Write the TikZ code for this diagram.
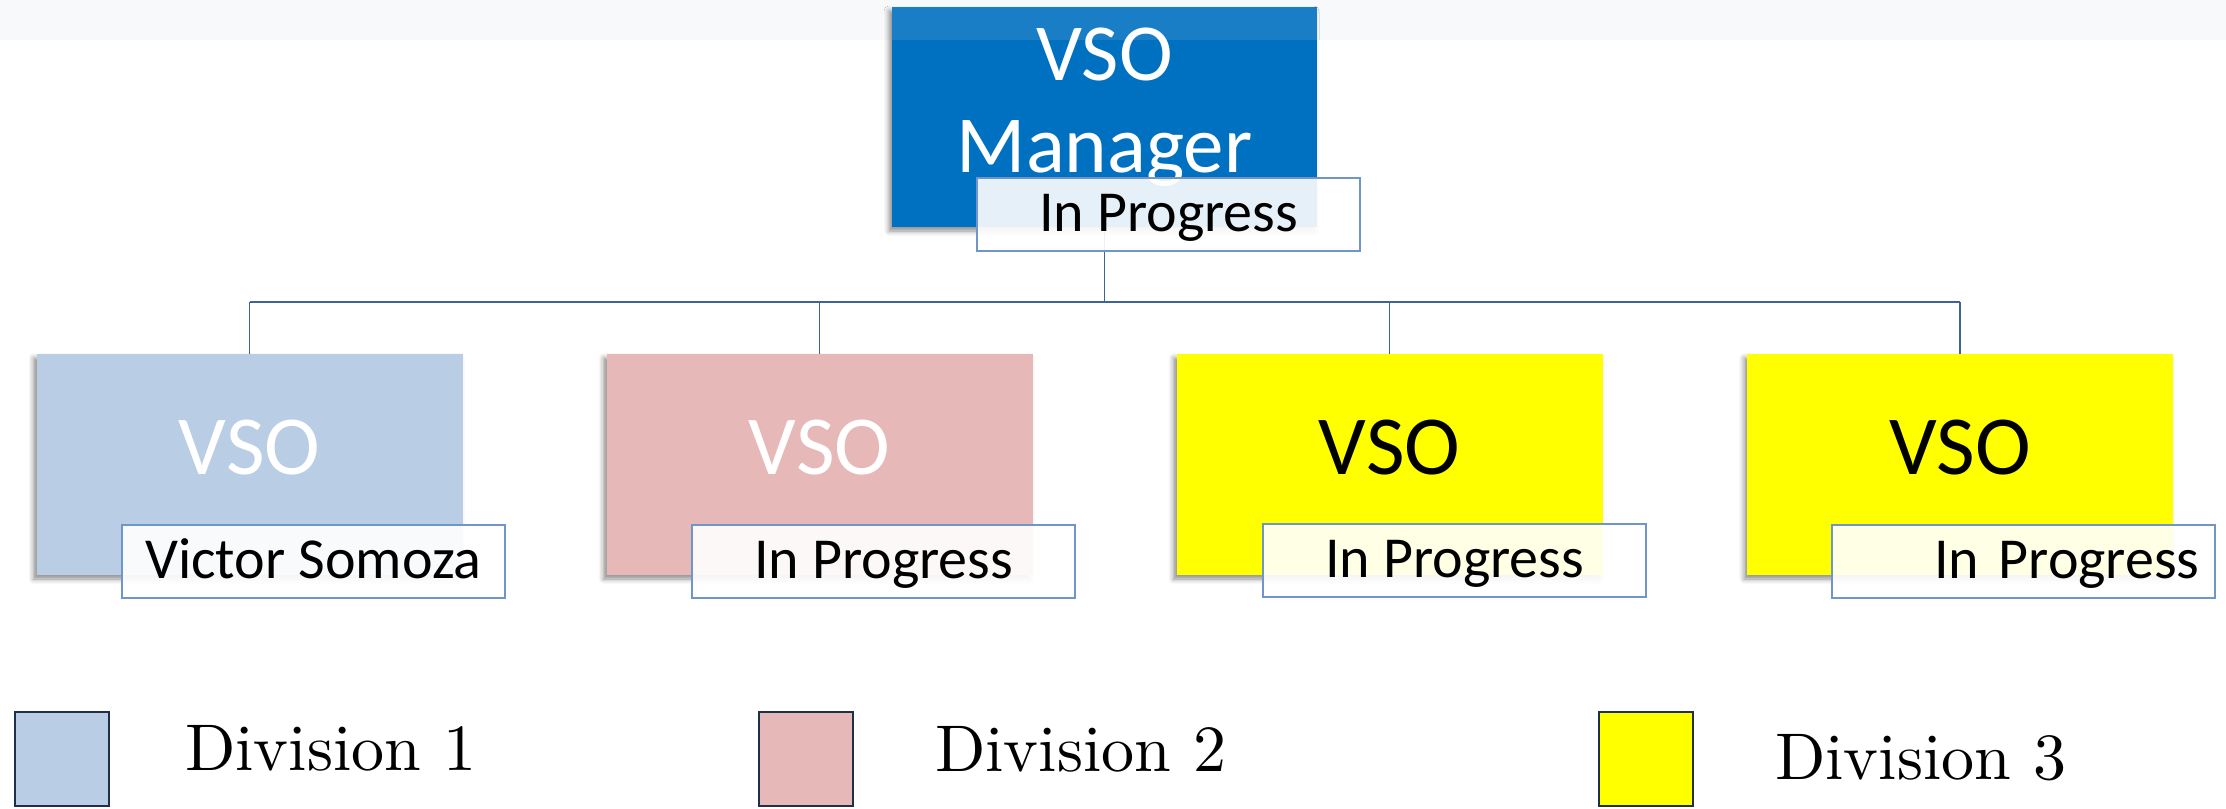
\documentclass[tikz,border=0pt]{standalone}
\usepackage{fontspec}
\newfontfamily\boxfont{Carlito}
\newfontfamily\keyfont{lmroman10-regular.otf}
\usetikzlibrary{shadows.blur}

\definecolor{mgrblue}{HTML}{0070C0}
\definecolor{divone}{HTML}{B9CDE5}
\definecolor{divtwo}{HTML}{E6B9B8}
\definecolor{divthree}{HTML}{FFFF00}
\definecolor{linkblue}{HTML}{3E6496}
\definecolor{tagedge}{HTML}{7095C8}
\definecolor{keyedge}{HTML}{1F3048}
\definecolor{bandgray}{HTML}{F8F9FA}

\begin{document}
\begin{tikzpicture}[x=1pt,y=-1pt,
  unitbox/.style={rectangle, minimum width=426pt, minimum height=221pt, inner sep=0pt,
    blur shadow={shadow xshift=-3pt, shadow yshift=-4pt, shadow blur radius=5pt, shadow opacity=45}},
  unittext/.style={anchor=base, inner sep=0pt, font=\boxfont\fontsize{84}{90}\selectfont},
  mgrtext/.style={anchor=base, inner sep=0pt, text=white, font=\boxfont\fontsize{81}{90}\selectfont},
  tag/.style={rectangle, draw=tagedge, line width=1.2pt, fill=white, fill opacity=0.9, text opacity=1,
    minimum width=383pt, minimum height=73pt, inner sep=0pt, text height=37pt, text depth=4pt,
    font=\boxfont\fontsize{58}{60}\selectfont},
  link/.style={draw=linkblue, line width=1.6pt},
  bus/.style={draw=linkblue, line width=2.6pt},
  keybox/.style={rectangle, draw=keyedge, line width=2pt, minimum width=94pt, minimum height=94pt, inner sep=0pt},
  keytext/.style={anchor=base west, inner sep=0pt, font=\keyfont\fontsize{66}{70}\selectfont},
]
\useasboundingbox (0,0) rectangle (2226,808);

% faint strip along the top edge
\fill[bandgray] (0,0) rectangle (2226,40);

% manager box
\node[unitbox, minimum width=425pt, minimum height=220pt, fill=mgrblue] (mgr) at (1104.5,117) {};
\fill[white, opacity=0.1] (mgr.north west) rectangle (mgr.east |- 0,40);
\node[mgrtext] (mgrvso) at (1104.5,80) {VSO};
\node[mgrtext] (mgrname) at (1104.5,172) {Manager};

% division boxes
\node[unitbox, fill=divone]   (b1) at (249.5,464.5) {};
\node[unitbox, fill=divtwo]   (b2) at (819.5,464.5) {};
\node[unitbox, fill=divthree] (b3) at (1389.5,464.5) {};
\node[unitbox, fill=divthree] (b4) at (1960,464.5) {};

\node[unittext, text=white] (t1) at (249.5,474) {VSO};
\node[unittext, text=white] (t2) at (819.5,474) {VSO};
\node[unittext, text=black] (t3) at (1389.5,474) {VSO};
\node[unittext, text=black] (t4) at (1960,474) {VSO};

% connectors
\coordinate (busline) at (0,302);
\draw[link] (mgr.south) -- (mgr.south |- busline);
\foreach \b in {b1,b2,b3,b4}
  \draw[link] (\b.north |- busline) -- (\b.north);
\draw[bus] (b1.north |- busline) -- (b4.north |- busline);

% status tags
\node[tag] (mtag) at (1168.5,214.5) {In Progress};
\node[tag] (g1) at (313.5,561.5) {Victor Somoza};
\node[tag] (g2) at (883.5,561.5) {In Progress};
\node[tag] (g3) at (1454.5,560.5) {In Progress};
\node[tag, text width=352pt, align=right] (g4) at (2023.5,561.5) {In Progress};

% legend
\node[keybox, fill=divone]   (k1) at (61.5,758.5) {};
\node[keybox, fill=divtwo]   (k2) at (806,758.5) {};
\node[keybox, fill=divthree] (k3) at (1645.5,759) {};
\node[keytext] (l1) at (185,770) {Division 1};
\node[keytext] (l2) at (935,771) {Division 2};
\node[keytext] (l3) at (1775,779) {Division 3};
\end{tikzpicture}
\end{document}
